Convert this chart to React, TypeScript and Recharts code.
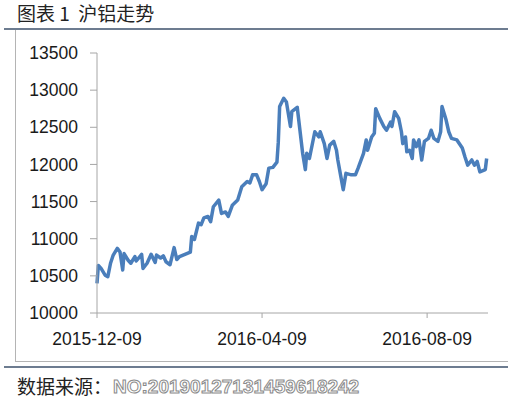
import React from 'react';
import { LineChart, Line, XAxis, YAxis } from 'recharts';

// days since 2015-12-09
const days = [
  0, 1, 3, 6, 8, 10, 12, 15, 17, 19, 20, 23, 25, 28, 29, 33, 34, 37, 40, 43,
  44, 47, 49, 51, 54, 57, 59, 61, 69, 70, 72, 75, 77, 79, 82, 84, 86, 90, 92, 95,
  97, 100, 104, 107, 111, 113, 115, 118, 120, 122, 125, 127, 130, 133, 134, 135, 138, 140, 143, 144,
  148, 150, 152, 154, 155, 157, 161, 164, 165, 168, 170, 172, 175, 177, 178, 180, 182, 184, 188, 191,
  193, 197, 199, 200, 203, 205, 206, 209, 212, 214, 217, 218, 220, 223, 225, 226, 228, 229, 231, 233,
  234, 236, 238, 240, 242, 245, 247, 249, 252, 254, 255, 258, 260, 262, 266, 270, 272, 274, 277, 279,
  281, 283, 287, 288,
];

const prices = [
  10400, 10640, 10600, 10510, 10490, 10670, 10780, 10870, 10820, 10580, 10800, 10710, 10670, 10760, 10700, 10790, 10600, 10670, 10790, 10680,
  10780, 10740, 10770, 10690, 10650, 10880, 10720, 10760, 10820, 11030, 10990, 11210, 11190, 11280, 11300, 11230, 11430, 11520, 11340, 11360,
  11300, 11450, 11520, 11700, 11770, 11750, 11860, 11860, 11770, 11660, 11740, 11950, 11960, 12030, 12300, 12780, 12890, 12840, 12510, 12710,
  12770, 12460, 12150, 11930, 12150, 12080, 12440, 12370, 12440, 12280, 12080, 12260, 12310, 12190, 12060, 11860, 11660, 11880, 11860, 11860,
  11950, 12150, 12330, 12190, 12370, 12420, 12750, 12620, 12510, 12460, 12570, 12510, 12710, 12620, 12440, 12280, 12370, 12170, 12190, 12080,
  12330, 12240, 12330, 12060, 12310, 12350, 12460, 12350, 12310, 12440, 12780, 12600, 12440, 12350, 12330, 12220, 12100, 11990, 12060, 11990,
  12040, 11900, 11930, 12080,
];

const xTicks = [0, 122, 244];
const xTickLabels = ['2015-12-09', '2016-04-09', '2016-08-09'];
const yTicks = [10000, 10500, 11000, 11500, 12000, 12500, 13000, 13500];

const data = days.map((d, i) => ({ day: d, price: prices[i] }));

const tickFont = { fontSize: 17.5, fill: '#1a1a1a', fontFamily: '"Liberation Sans", Arial, sans-serif' };
const cjkFont = '"Noto Sans CJK SC", sans-serif';
const rule = '#6d7c90';
const axisGray = '#a6a6a6';

export default function App() {
  return (
    <div style={{ position: 'absolute', left: 0, top: 0, width: 508, height: 400, background: '#fff', overflow: 'hidden' }}>
      {/* title */}
      <div style={{ position: 'absolute', left: 17, top: 3, fontSize: 19, lineHeight: '19px', fontFamily: cjkFont, color: '#222', whiteSpace: 'pre' }}>
        图表 1  沪铝走势
      </div>
      {/* top rule */}
      <div style={{ position: 'absolute', left: 4, top: 28, width: 504, height: 2, background: rule }} />
      {/* chart frame */}
      <div style={{ position: 'absolute', left: 15, top: 30, width: 520, height: 331, borderLeft: '1px solid #b4b4b4', borderBottom: '1px solid #b4b4b4' }} />
      {/* bottom rule */}
      <div style={{ position: 'absolute', left: 4, top: 366, width: 504, height: 2, background: rule }} />
      {/* source */}
      <div style={{ position: 'absolute', left: 17, top: 376, fontSize: 19, lineHeight: '19px', fontFamily: cjkFont, color: '#222' }}>
        数据来源：
      </div>
      <svg style={{ position: 'absolute', left: 0, top: 0 }} width={508} height={400}>
        <text
          x={113}
          y={393}
          fontSize={19}
          fontFamily='"Liberation Sans", Arial, sans-serif'
          fill="#fff"
          stroke="#8a8a8a"
          strokeWidth={1}
          fontWeight="bold"
        >
          NO:20190127131459618242
        </text>
      </svg>

      <div style={{ position: 'absolute', left: 0, top: 0 }}>
        <LineChart width={508} height={400} data={data} margin={{ top: 53, right: 20, bottom: 57, left: 37 }}>
          <XAxis
            dataKey="day"
            type="number"
            domain={[0, 289]}
            ticks={xTicks}
            tickFormatter={(v) => xTickLabels[xTicks.indexOf(v)] ?? ''}
            height={30}
            tick={tickFont}
            tickSize={5}
            tickMargin={15}
            stroke={axisGray}
            axisLine={{ stroke: axisGray }}
            tickLine={{ stroke: axisGray }}
            interval={0}
          />
          <YAxis
            type="number"
            domain={[10000, 13500]}
            ticks={yTicks}
            width={60}
            tick={tickFont}
            tickSize={7}
            tickMargin={12}
            stroke={axisGray}
            axisLine={{ stroke: axisGray }}
            tickLine={{ stroke: axisGray }}
            interval={0}
          />
          <Line
            type="linear"
            dataKey="price"
            stroke="#4a7ebb"
            strokeWidth={3.5}
            dot={false}
            isAnimationActive={false}
            strokeLinejoin="round"
          />
        </LineChart>
      </div>
    </div>
  );
}
